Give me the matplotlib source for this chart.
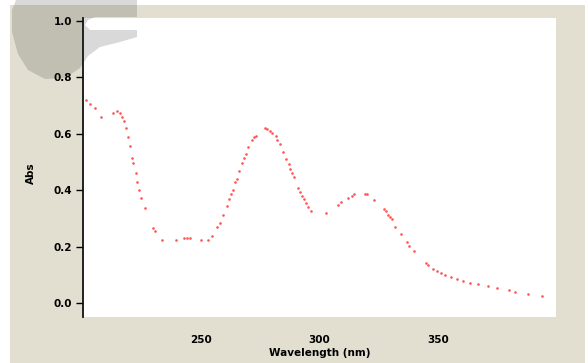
import matplotlib
matplotlib.use("Agg")
from matplotlib import pyplot as plt
from matplotlib import transforms
from matplotlib.patches import Rectangle, Polygon

# absorbance spectrum
wavelength = [201.3, 202.9, 205.2, 207.7, 212.5, 214.4, 215.8, 216.5, 217.4, 218.2,
              218.9, 219.7, 220.6, 221.3, 222.3, 223.0, 223.7, 224.7, 226.2, 229.5,
              230.5, 233.6, 239.2, 242.9, 244.0, 245.2, 249.9, 252.9, 254.5, 256.8,
              257.9, 259.4, 260.9, 261.9, 262.6, 263.4, 264.3, 265.0, 265.8, 267.2,
              268.2, 269.0, 269.9, 271.3, 272.1, 273.2, 276.9, 277.9, 278.9, 280.0,
              281.4, 282.2, 283.1, 284.5, 286.0, 287.0, 287.7, 288.5, 289.4, 290.9,
              291.7, 292.6, 293.4, 294.1, 295.0, 296.5, 302.9, 307.7, 309.3, 311.9,
              313.6, 314.4, 319.2, 320.0, 323.2, 327.3, 328.0, 328.9, 329.7, 330.5,
              332.1, 334.6, 336.8, 337.7, 340.0, 345.0, 345.8, 348.1, 349.8, 351.4,
              353.1, 355.5, 358.0, 360.8, 363.6, 367.2, 371.1, 374.9, 380.1, 382.5,
              388.2, 394.2]
absorbance = [0.720, 0.705, 0.690, 0.660, 0.673, 0.680, 0.673, 0.660, 0.644, 0.620,
              0.590, 0.557, 0.513, 0.495, 0.462, 0.430, 0.400, 0.373, 0.336, 0.265,
              0.256, 0.223, 0.223, 0.229, 0.229, 0.229, 0.223, 0.223, 0.238, 0.270,
              0.285, 0.312, 0.345, 0.368, 0.387, 0.400, 0.429, 0.440, 0.469, 0.495,
              0.513, 0.530, 0.554, 0.578, 0.590, 0.592, 0.620, 0.616, 0.610, 0.602,
              0.592, 0.578, 0.564, 0.537, 0.510, 0.493, 0.474, 0.460, 0.446, 0.407,
              0.393, 0.379, 0.368, 0.354, 0.339, 0.326, 0.319, 0.346, 0.359, 0.373,
              0.380, 0.387, 0.387, 0.387, 0.366, 0.332, 0.325, 0.312, 0.305, 0.298,
              0.270, 0.244, 0.216, 0.202, 0.183, 0.142, 0.135, 0.122, 0.115, 0.107,
              0.100, 0.093, 0.086, 0.079, 0.072, 0.066, 0.059, 0.052, 0.046, 0.039,
              0.033, 0.026]
xticks = [250, 300, 350]
yticks = [0.0, 0.2, 0.4, 0.6, 0.8, 1.0]

W, H = 588, 363
fig = plt.figure(figsize=(W / 100, H / 100), dpi=100, facecolor="white")

# beige panel behind the plot
fig.patches.append(Rectangle((10 / W, 0), 575 / W, 358 / H, transform=fig.transFigure,
                             facecolor="#e2dfd0", edgecolor="none", zorder=-5))

ax = fig.add_axes([83 / W, 46 / H, 473 / W, 299 / H])
ax.set_facecolor("white")
ax.plot(wavelength, absorbance, "o", ms=1.9, mew=0, color="#ff3a3a", alpha=0.85)

ax.set_xlim(200, 400)
ax.set_ylim(-0.05, 1.011)
ax.set_xticks(xticks)
ax.set_yticks(yticks)
ax.set_yticklabels([f"{v:.1f}" for v in yticks])

for side in ["top", "right", "bottom"]:
    ax.spines[side].set_visible(False)
ax.spines["left"].set_linewidth(1.3)
ax.spines["left"].set_color("#111111")

ax.tick_params(axis="y", length=5, width=1, pad=3, labelsize=7.5)
ax.tick_params(axis="x", length=0, pad=13, labelsize=7.5)
for lab in ax.get_xticklabels() + ax.get_yticklabels():
    lab.set_fontweight("bold")

ax.set_xlabel("Wavelength (nm)", fontsize=7.5, fontweight="bold", labelpad=2)
ax.set_ylabel("Abs", fontsize=7.5, fontweight="bold")
ax.yaxis.set_label_coords(-0.1, 0.48)

# faint "e"-shaped watermark in the top-left corner, outline in pixels from the top
outline = [(16, 0), (137, 0), (137, 17), (95, 17), (88, 20), (85, 25), (90, 30),
           (137, 30), (137, 37), (120, 42), (100, 47), (88, 56), (80, 68), (65, 78),
           (45, 79), (28, 70), (18, 54), (12, 32), (12, 10)]
outline = [(x, H - y) for x, y in outline]
fig.patches.append(Polygon(outline, closed=True, transform=transforms.IdentityTransform(),
                           facecolor="#202020", edgecolor="none", alpha=0.17, zorder=5))

fig.savefig("out.png", dpi=100, facecolor=fig.get_facecolor())
